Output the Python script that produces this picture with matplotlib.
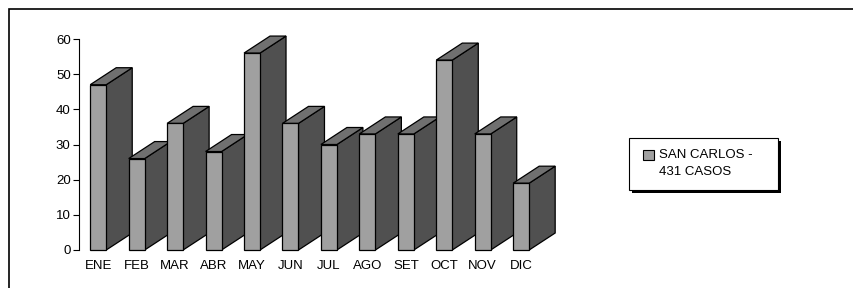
import matplotlib
matplotlib.use("Agg")
import matplotlib.pyplot as plt
from matplotlib.patches import Rectangle, Polygon

plt.rcParams['font.family'] = ['Liberation Sans', 'DejaVu Sans']

# data
meses = ["ENE", "FEB", "MAR", "ABR", "MAY", "JUN", "JUL", "AGO", "SET", "OCT", "NOV", "DIC"]
casos = [47, 26, 36, 28, 56, 36, 30, 33, 33, 54, 33, 19]
serie = "SAN CARLOS -\n431 CASOS"

# colours of the pseudo 3d faces
c_front = "#a0a0a0"
c_side = "#505050"
c_top = "#707070"

W, H = 854, 288
fig = plt.figure(figsize=(W / 100, H / 100), dpi=100)

# axes placed in pixels: y axis at x=79, 0 at y=250, 60 at y=39
px = 38.45  # pixels per category
ax = fig.add_axes([79 / W, 38 / H, 12.5 * px / W, 211 / H])
ax.set_xlim(-0.5, 12.0)
ax.set_ylim(0, 60)

w = 16 / px           # front face width
dx = 26 / px          # depth offset in x (data units)
dy = 17 * 60 / 211    # depth offset in y (data units)

for i, v in enumerate(casos):
    z = 2 + i * 3
    x0, x1 = i - w / 2, i + w / 2
    side = Polygon([(x1, 0), (x1 + dx, dy), (x1 + dx, v + dy), (x1, v)],
                   closed=True, facecolor=c_side, edgecolor="black", lw=0.9,
                   zorder=z, clip_on=False)
    top = Polygon([(x0, v), (x1, v), (x1 + dx, v + dy), (x0 + dx, v + dy)],
                  closed=True, facecolor=c_top, edgecolor="black", lw=0.9,
                  zorder=z, clip_on=False)
    ax.add_patch(side)
    ax.add_patch(top)
    ax.bar(i, v, width=w, color=c_front, edgecolor="black", lw=0.9,
           zorder=z + 1, clip_on=False)

for s in ["top", "right", "bottom"]:
    ax.spines[s].set_visible(False)
ax.spines["left"].set_linewidth(0.8)
ax.set_yticks(range(0, 61, 10))
ax.tick_params(axis="y", length=4, width=0.8, pad=2, labelsize=9.5)
ax.set_xticks(range(len(meses)))
ax.set_xticklabels(meses)
ax.tick_params(axis="x", length=0, pad=7, labelsize=9.5)
ax.patch.set_alpha(0)

# outer frame (right and bottom edges fall outside the picture)
fig.patches.append(Rectangle((9 / W, -0.1), 1.2, 1.1 - 9 / H,
                             transform=fig.transFigure, fill=False,
                             edgecolor="black", lw=1.2, zorder=0))

# legend box with shadow
lx, ly, lw_, lh = 629, 138, 149, 52
fig.patches.append(Rectangle(((lx + 3) / W, (H - ly - lh - 3) / H), lw_ / W, lh / H,
                             transform=fig.transFigure, facecolor="black",
                             edgecolor="none", zorder=5))
fig.patches.append(Rectangle((lx / W, (H - ly - lh) / H), lw_ / W, lh / H,
                             transform=fig.transFigure, facecolor="white",
                             edgecolor="black", lw=0.8, zorder=6))
fig.patches.append(Rectangle((643 / W, (H - 160) / H), 11 / W, 10 / H,
                             transform=fig.transFigure, facecolor=c_front,
                             edgecolor="black", lw=0.8, zorder=7))
lineas = serie.split("\n")
fig.text(659 / W, 1 - 155 / H, lineas[0], fontsize=9.5, va="center", ha="left", zorder=8)
fig.text(659 / W, 1 - 172 / H, lineas[1], fontsize=9.5, va="center", ha="left", zorder=8)

fig.savefig("out.png", dpi=100)
